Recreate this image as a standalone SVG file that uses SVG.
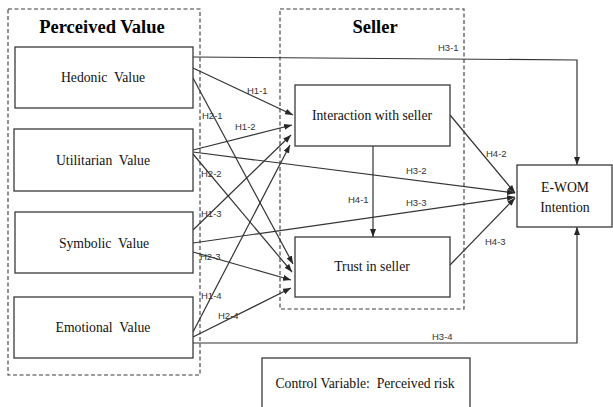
<svg xmlns="http://www.w3.org/2000/svg" width="613" height="407" viewBox="0 0 613 407">
  <defs>
    <marker id="arrow" viewBox="0 0 8 6" refX="8" refY="3" markerWidth="8" markerHeight="6" markerUnits="userSpaceOnUse" orient="auto">
      <path d="M0,0 L8,3 L0,6 Z" fill="#262626"/>
    </marker>
    <style>
      .box { fill: #ffffff; stroke: #3a3a3a; stroke-width: 1.3; }
      .group { fill: none; stroke: #3a3a3a; stroke-width: 1.1; stroke-dasharray: 4 2.5; }
      .title { font-family: "Liberation Serif", "Times New Roman", serif; font-weight: bold; font-size: 18.5px; fill: #000; }
      .label { font-family: "Liberation Serif", "Times New Roman", serif; font-size: 13.7px; fill: #111; text-anchor: middle; white-space: pre; }
      .hyp { font-family: "Liberation Sans", Arial, sans-serif; font-size: 9.5px; fill: #333; }
      .edge { fill: none; stroke: #333; stroke-width: 1.2; }
      .arr { marker-end: url(#arrow); }
    </style>
  </defs>

  <rect width="613" height="407" fill="#ffffff"/>

  <!-- construct groupings -->
  <g id="group-perceived-value">
    <rect class="group" x="8" y="9" width="192" height="366"/>
    <text class="title" x="102" y="33" text-anchor="middle">Perceived Value</text>
  </g>
  <g id="group-seller">
    <rect class="group" x="280" y="9" width="184" height="300"/>
    <text class="title" x="375" y="33" text-anchor="middle">Seller</text>
  </g>

  <!-- connectors -->
  <g id="connectors">
    <polyline class="edge arr" points="193,57 577,60 577,165"/>
    <polyline class="edge arr" points="193,343 577,343 577,227"/>

    <line class="edge arr" x1="193" y1="68" x2="293" y2="115"/>
    <line class="edge arr" x1="193" y1="150" x2="292" y2="125"/>
    <line class="edge arr" x1="193" y1="230" x2="291" y2="135"/>
    <line class="edge arr" x1="193" y1="332" x2="290" y2="145"/>

    <line class="edge arr" x1="193" y1="78" x2="293" y2="264"/>
    <line class="edge arr" x1="193" y1="154" x2="292" y2="272"/>
    <line class="edge arr" x1="193" y1="252" x2="291" y2="280"/>
    <line class="edge arr" x1="193" y1="337" x2="291" y2="288"/>

    <line class="edge arr" x1="193" y1="152" x2="515" y2="193"/>
    <line class="edge arr" x1="193" y1="243" x2="515" y2="197"/>

    <line class="edge arr" x1="373" y1="146" x2="373" y2="237"/>
    <line class="edge arr" x1="450" y1="115" x2="515" y2="193"/>
    <line class="edge arr" x1="450" y1="265" x2="515" y2="198"/>

    <text class="hyp" x="247" y="94">H1-1</text>
    <text class="hyp" x="235" y="130">H1-2</text>
    <text class="hyp" x="201" y="217">H1-3</text>
    <text class="hyp" x="201" y="299">H1-4</text>
    <text class="hyp" x="202" y="119">H2-1</text>
    <text class="hyp" x="201" y="177">H2-2</text>
    <text class="hyp" x="200" y="260">H2-3</text>
    <text class="hyp" x="218" y="319">H2-4</text>
    <text class="hyp" x="438" y="51">H3-1</text>
    <text class="hyp" x="406" y="174">H3-2</text>
    <text class="hyp" x="406" y="206">H3-3</text>
    <text class="hyp" x="432" y="340">H3-4</text>
    <text class="hyp" x="348" y="203">H4-1</text>
    <text class="hyp" x="486" y="157">H4-2</text>
    <text class="hyp" x="485" y="245">H4-3</text>
  </g>

  <!-- nodes -->
  <g id="node-hedonic">
    <rect class="box" x="15" y="47" width="178" height="61"/>
    <text class="label" x="103" y="82">Hedonic  Value</text>
  </g>
  <g id="node-utilitarian">
    <rect class="box" x="14" y="129" width="179" height="62"/>
    <text class="label" x="103" y="165">Utilitarian  Value</text>
  </g>
  <g id="node-symbolic">
    <rect class="box" x="15" y="212" width="178" height="61"/>
    <text class="label" x="104" y="248">Symbolic  Value</text>
  </g>
  <g id="node-emotional">
    <rect class="box" x="14" y="297" width="179" height="61"/>
    <text class="label" x="103" y="332">Emotional  Value</text>
  </g>
  <g id="node-interaction">
    <rect class="box" x="295" y="85" width="155" height="61"/>
    <text class="label" x="372" y="120">Interaction with seller</text>
  </g>
  <g id="node-trust">
    <rect class="box" x="295" y="237" width="155" height="60"/>
    <text class="label" x="372" y="271">Trust in seller</text>
  </g>
  <g id="node-ewom">
    <rect class="box" x="517" y="165" width="95" height="62"/>
    <text class="label" x="565" y="192">E-WOM</text>
    <text class="label" x="565" y="212">Intention</text>
  </g>
  <g id="node-control">
    <rect class="box" x="262" y="358" width="208" height="60"/>
    <text class="label" x="365" y="388">Control Variable:  Perceived risk</text>
  </g>
</svg>
